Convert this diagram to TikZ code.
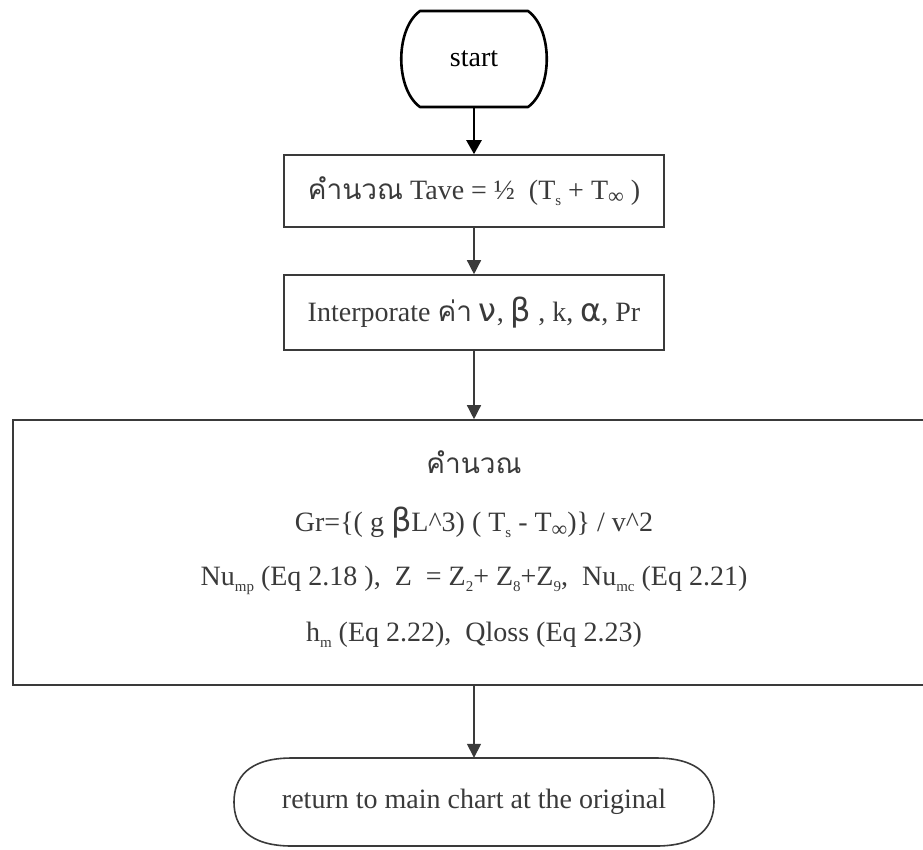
\documentclass[tikz,border=0pt]{standalone}
\usepackage{fontspec}
\setmainfont{Liberation Serif}
\newfontfamily\thaifont[Script=Thai]{Loma}
\newfontfamily\gkfont{DejaVu Sans}
\usetikzlibrary{arrows.meta,calc}

\definecolor{ink}{HTML}{3A3A3A}
\definecolor{txt}{HTML}{3A3A3A}

% lowered small index text
\newcommand{\lowidx}[1]{\raisebox{-0.45ex}{\fontsize{15}{15}\selectfont #1}}
\newcommand{\lowinf}{\raisebox{-0.35ex}{\fontsize{22}{22}\selectfont ∞}}
\newcommand{\gk}[1]{{\gkfont\fontsize{32}{32}\selectfont #1}}

\tikzset{
  flowbox/.style={draw=ink, line width=1.6pt, rectangle, text=txt,
    font=\fontsize{28}{34}\selectfont, inner sep=0pt},
  flowtext/.style={text=txt, font=\fontsize{28}{34}\selectfont, inner sep=0pt},
  flowarrow/.style={draw=ink, line width=1.4pt,
    -{Triangle[length=14pt,width=14pt]}},
  startarrow/.style={draw=black, line width=2.4pt,
    -{Triangle[length=14pt,width=15pt]}}
}

\begin{document}
\begin{tikzpicture}[x=1pt,y=-1pt]
\useasboundingbox (0,0) rectangle (923,849);

% terminal: start
\node[inner sep=0pt, minimum width=108pt, minimum height=96pt,
      font=\fontsize{28}{34}\selectfont] (start) at (474,59) {start};
\begin{scope}[shift={(start.center)}]
  \draw[black, line width=2.6pt, line join=round]
    (-54,-48) -- (54,-48) .. controls (79,-30) and (79,30) .. (54,48)
    -- (-54,48) .. controls (-79,30) and (-79,-30) .. (-54,-48) -- cycle;
\end{scope}

% process boxes
\node[flowbox, minimum width=380pt, minimum height=72pt] (avg) at (474,191)
  {{\thaifont คำนวณ} Tave = ½ \ (T\lowidx{s} + T\lowinf\ )};
\node[flowbox, minimum width=380pt, minimum height=75pt] (props) at (474,312.5)
  {Interporate {\thaifont ค่า} \gk{ν}, \gk{β} ,\ k, \gk{α}, Pr};
\node[flowbox, minimum width=922pt, minimum height=265pt] (calc) at (474,552.5) {};

\node[flowtext] (l1) at (474,462) {\thaifont คำนวณ};
\node[flowtext] (l2) at (474,523)
  {Gr=\{( g \gk{β}L\textasciicircum 3) ( T\lowidx{s} - T\lowinf)\} / v\textasciicircum 2};
\node[flowtext] (l3) at (474,580)
  {Nu\lowidx{mp} (Eq 2.18 ),\ \ Z \ = Z\lowidx{2}+ Z\lowidx{8}+Z\lowidx{9},\ \ Nu\lowidx{mc} (Eq 2.21)};
\node[flowtext] (l4) at (474,635)
  {h\lowidx{m} (Eq 2.22),\ \ Qloss (Eq 2.23)};

% terminal: return
\node[inner sep=0pt, minimum width=480pt, minimum height=88pt, text=txt,
      font=\fontsize{28}{34}\selectfont] (ret) at (474,802)
  {return to main chart at the original};
\begin{scope}[shift={(ret.center)}]
  \draw[ink, line width=1.6pt]
    (-182,-44) -- (182,-44) .. controls (226,-44) and (240,-24) .. (240,0)
    .. controls (240,24) and (226,44) .. (182,44)
    -- (-182,44) .. controls (-226,44) and (-240,24) .. (-240,0)
    .. controls (-240,-24) and (-226,-44) .. (-182,-44) -- cycle;
\end{scope}

% connectors
\draw[startarrow] (start.south) -- (avg.north);
\draw[flowarrow] (avg.south) -- (props.north);
\draw[flowarrow] (props.south) -- (calc.north);
\draw[flowarrow] (calc.south) -- (ret.north);
\end{tikzpicture}
\end{document}
